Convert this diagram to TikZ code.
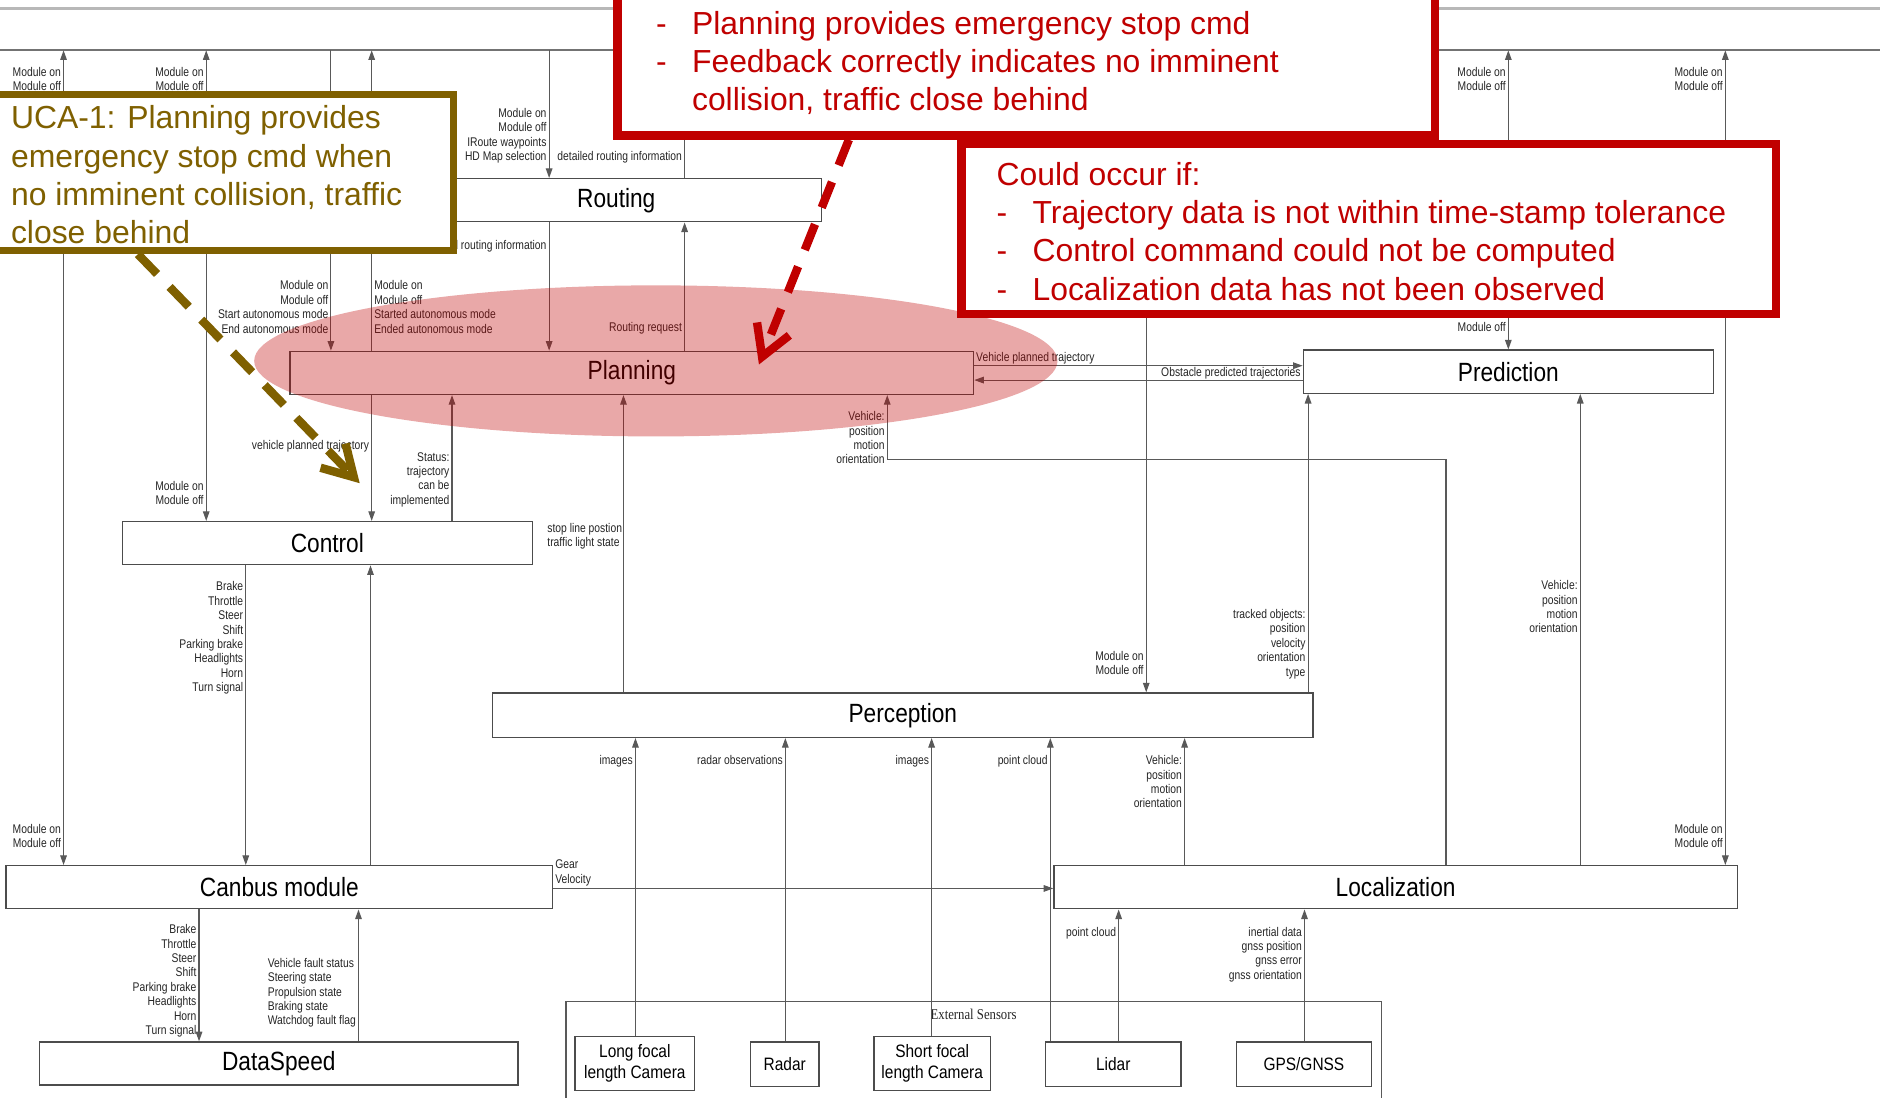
\documentclass[tikz,border=0pt]{standalone}
\usepackage{fontspec}
\setmainfont{Liberation Sans}
\newfontfamily\lblfont[FakeStretch=0.82]{Liberation Sans}
\newfontfamily\modfont[FakeStretch=0.86]{Liberation Sans}
\newfontfamily\serfont[FakeStretch=0.85]{Liberation Serif}
\usetikzlibrary{arrows.meta}

\definecolor{alarm}{HTML}{C00000}
\definecolor{ochre}{HTML}{7F6000}
\newcommand\dashitem[2]{\makebox[#1][l]{-}#2}

\begin{document}
\begin{tikzpicture}[x=1pt,y=-1pt,
  >={Triangle[length=8pt,width=5.5pt]},
  wire/.style={draw=black!65, line width=0.9pt},
  arr/.style={wire,->},
  both/.style={wire,<->},
  mod/.style={draw=black!70, line width=1.1pt, fill=white, inner sep=0pt,
    font=\modfont\fontsize{22}{24}\selectfont},
  sens/.style={draw=black!70, line width=1.1pt, fill=white, inner sep=0pt,
    align=center, font=\modfont\fontsize{15}{18}\selectfont},
  lab/.style={font=\lblfont\fontsize{10.5}{12}\selectfont, text=black!85,
    inner sep=0pt, align=right, anchor=north east},
  labl/.style={lab, align=left, anchor=north west},
  labrl/.style={lab, align=left, anchor=north east},
  cbox/.style={draw=alarm, line width=7pt, fill=white, inner sep=0pt},
  obox/.style={draw=ochre, line width=6pt, fill=white, inner sep=0pt},
  anntext/.style={inner sep=0pt, align=left, anchor=north west,
    font=\fontsize{26.6}{32}\selectfont},
  dashed arrow/.style={line width=7pt, dash pattern=on 23pt off 15pt,
    -{Straight Barb[length=25pt,width=29pt]}}
]
\useasboundingbox (0,0) rectangle (1568,915);
\fill[white] (0,0) rectangle (1568,915);
\begin{scope}
\clip (0,0) rectangle (1568,915);

% ---------- top bus lines ----------
\coordinate (busA) at (0,7);    \coordinate (busAe) at (1568,7);
\coordinate (bus)  at (0,42);   \coordinate (buse)  at (1568,42);
\draw[line width=2.2pt, black!28] (busA) -- (busAe);
\draw[line width=1.6pt, black!55] (bus) -- (buse);

% ---------- modules ----------
\node[mod, minimum width=342pt, minimum height=36pt] (rout) at (514,167) {Routing};
\node[mod, minimum width=570pt, minimum height=36pt] (plan) at (527,311) {Planning};
\node[mod, minimum width=342pt, minimum height=36pt] (pred) at (1258,310) {Prediction};
\node[mod, minimum width=342pt, minimum height=36pt] (ctl)  at (273,453) {Control};
\node[mod, minimum width=684pt, minimum height=37pt] (perc) at (753,596.5) {Perception};
\node[mod, minimum width=456pt, minimum height=36pt] (can)  at (233,740) {Canbus module};
\node[mod, minimum width=570pt, minimum height=36pt] (loc)  at (1164,740) {Localization};
\node[mod, minimum width=399pt, minimum height=36pt] (dsp)  at (232.5,887) {DataSpeed};

% ---------- external sensors ----------
\coordinate (extA) at (472,925); \coordinate (extB) at (472,835);
\coordinate (extC) at (1152,835); \coordinate (extD) at (1152,925);
\draw[line width=1pt, black!65] (extA) -- (extB) -- (extC) -- (extD);
\node[inner sep=0pt, font=\serfont\fontsize{12.5}{14}\selectfont, text=black!85] (extl) at (812,846) {External Sensors};
\node[sens, minimum width=100pt, minimum height=45pt] (lfc) at (529.5,887) {Long focal\\length Camera};
\node[sens, minimum width=57pt,  minimum height=37pt] (rad) at (654.5,887.5) {Radar};
\node[sens, minimum width=97pt,  minimum height=45pt] (sfc) at (777.5,887) {Short focal\\length Camera};
\node[sens, minimum width=113pt, minimum height=37pt] (lid) at (928.5,887.5) {Lidar};
\node[sens, minimum width=113pt, minimum height=37pt] (gps) at (1087.5,887.5) {GPS/GNSS};

% ---------- connectors ----------
\draw[both] (53,0 |- bus) -- (53,0 |- can.north);
\node[lab] (m1a) at (51,56) {Module on\\Module off};
\node[lab] (m1b) at (51,687) {Module on\\Module off};

\draw[both] (172,0 |- bus) -- (172,0 |- ctl.north);
\node[lab] (m2a) at (170,56) {Module on\\Module off};
\node[lab] (m2b) at (170,401) {Module on\\Module off};

\draw[arr] (276,0 |- bus) -- (276,0 |- plan.north);
\node[lab] (m3) at (274,234) {Module on\\Module off\\Start autonomous mode\\End autonomous mode};

\draw[arr] (310,0 |- plan.north) -- (310,0 |- bus);
\node[labl] (m4) at (312,234) {Module on\\Module off\\Started autonomous mode\\Ended autonomous mode};

\draw[arr] (310,0 |- plan.south) -- (310,0 |- ctl.north);
\node[lab] (vpt) at (308,367) {vehicle planned trajectory};

\draw[arr] (377,0 |- ctl.north) -- (377,0 |- plan.south);
\node[lab] (sts) at (375,377) {Status:\\trajectory\\can be\\implemented};

\draw[arr] (458,0 |- bus) -- (458,0 |- rout.north);
\node[lab] (m5) at (456,90) {Module on\\Module off\\IRoute waypoints\\HD Map selection};

\draw[arr] (458,0 |- rout.south) -- (458,0 |- plan.north);
\node[lab] (dri1) at (456,200) {detailed routing information};

\draw[arr] (571,0 |- rout.north) -- (571,0 |- bus);
\node[lab] (dri2) at (569,126) {detailed routing information};

\draw[arr] (571,0 |- plan.north) -- (571,0 |- rout.south);
\node[lab] (rrq) at (569,269) {Routing request};

\draw[arr] (520,0 |- perc.north) -- (520,0 |- plan.south);
\node[labrl] (stp) at (519,436) {stop line postion\\traffic light state};

\coordinate (fbA) at (1206,383); \coordinate (fbB) at (740,383);
\draw[arr] (1206,0 |- loc.north) -- (fbA) -- (fbB) -- (740,0 |- plan.south);
\node[lab] (vp1) at (738,343) {Vehicle:\\position\\motion\\orientation};

\draw[arr] (956,0 |- bus) -- (956,0 |- perc.north);
\node[lab] (m6) at (954,543) {Module on\\Module off};

\draw[arr] (plan.east |- 0,305) -- (pred.west |- 0,305);
\node[labl] (vpt2) at (814,294) {Vehicle planned trajectory};
\draw[arr] (pred.west |- 0,317) -- (plan.east |- 0,317);
\node[lab] (opt) at (1085,306) {Obstacle predicted trajectories};

\draw[both] (1258,0 |- bus) -- (1258,0 |- pred.north);
\node[lab] (m7a) at (1256,56) {Module on\\Module off};
\node[lab] (m7b) at (1256,257) {Module on\\Module off};

\draw[both] (1439,0 |- bus) -- (1439,0 |- loc.north);
\node[lab] (m8a) at (1437,56) {Module on\\Module off};
\node[lab] (m8b) at (1437,687) {Module on\\Module off};

\draw[arr] (1091,0 |- perc.north) -- (1091,0 |- pred.south);
\node[lab] (trk) at (1089,508) {tracked objects:\\position\\velocity\\orientation\\type};

\draw[arr] (1318,0 |- loc.north) -- (1318,0 |- pred.south);
\node[lab] (vp2) at (1316,484) {Vehicle:\\position\\motion\\orientation};

\draw[arr] (205,0 |- ctl.south) -- (205,0 |- can.north);
\node[lab] (cmd1) at (203,485) {Brake\\Throttle\\Steer\\Shift\\Parking brake\\Headlights\\Horn\\Turn signal};
\draw[arr] (309,0 |- can.north) -- (309,0 |- ctl.south);

\draw[arr] (can.east |- 0,741) -- (loc.west |- 0,741);
\node[labl] (gv) at (463,717) {Gear\\Velocity};

\draw[arr] (166,0 |- can.south) -- (166,0 |- dsp.north);
\node[lab] (cmd2) at (164,771) {Brake\\Throttle\\Steer\\Shift\\Parking brake\\Headlights\\Horn\\Turn signal};
\draw[arr] (299,0 |- dsp.north) -- (299,0 |- can.south);
\node[labrl] (vfs) at (297,799) {Vehicle fault status\\Steering state\\Propulsion state\\Braking state\\Watchdog fault flag};

\draw[arr] (530,0 |- lfc.north) -- (530,0 |- perc.south);
\node[lab] (img1) at (528,630) {images};
\draw[arr] (655,0 |- rad.north) -- (655,0 |- perc.south);
\node[lab] (rdo) at (653,630) {radar observations};
\draw[arr] (777,0 |- sfc.north) -- (777,0 |- perc.south);
\node[lab] (img2) at (775,630) {images};
\draw[arr] (876,0 |- lid.north) -- (876,0 |- perc.south);
\node[lab] (pc1) at (874,630) {point cloud};
\draw[arr] (988,0 |- loc.north) -- (988,0 |- perc.south);
\node[lab] (vp3) at (986,630) {Vehicle:\\position\\motion\\orientation};
\draw[arr] (933,0 |- lid.north) -- (933,0 |- loc.south);
\node[lab] (pc2) at (931,773) {point cloud};
\draw[arr] (1088,0 |- gps.north) -- (1088,0 |- loc.south);
\node[lab] (ins) at (1086,773) {inertial data\\gnss position\\gnss error\\gnss orientation};

% ---------- highlighted controller ----------
\fill[alarm, fill opacity=0.34] (547,301) ellipse [x radius=335, y radius=63];

% ---------- annotation boxes ----------
\node[obox, minimum width=390pt, minimum height=130pt] (ucabox) at (183,144) {};
\node[cbox, minimum width=682pt, minimum height=150pt] (cause1) at (856,38) {};
\node[cbox, minimum width=679pt, minimum height=142pt] (cause2) at (1141.5,191) {};

\node[anntext, text=ochre] (uca) at (9,88)
  {UCA-1: Planning provides\\emergency stop cmd when\\no imminent collision, traffic\\close behind};
\node[anntext, text=alarm] (c1txt) at (547,9)
  {\dashitem{30pt}{Planning provides emergency stop cmd}\\
   \dashitem{30pt}{Feedback correctly indicates no imminent}\\
   \hspace*{30pt}collision, traffic close behind};
\node[anntext, text=alarm] (c2txt) at (831,135)
  {Could occur if:\\
   \dashitem{30pt}{Trajectory data is not within time-stamp tolerance}\\
   \dashitem{30pt}{Control command could not be computed}\\
   \dashitem{30pt}{Localization data has not been observed}};

% ---------- dashed pointers ----------
\coordinate (tipA) at (300,403);
\coordinate (tipB) at (633,304);
\draw[ochre, dashed arrow] (115,0 |- ucabox.south) -- (tipA);
\draw[alarm, dashed arrow] (708,0 |- cause1.south) -- (tipB);
\end{scope}
\end{tikzpicture}
\end{document}
